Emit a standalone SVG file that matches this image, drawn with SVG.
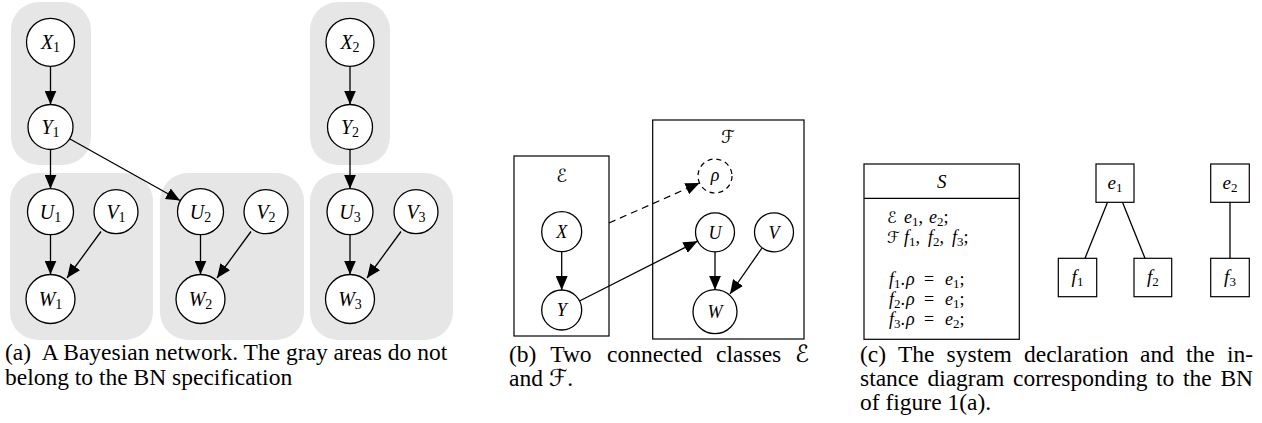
<svg xmlns="http://www.w3.org/2000/svg" width="1262" height="423" viewBox="0 0 1262 423">
<style>
.g{fill:#e6e6e6}
.n{fill:#fff;stroke:#000;stroke-width:1.3}
.nd{fill:#fff;stroke:#000;stroke-width:1.2;stroke-dasharray:5,4}
.bx{fill:#fff;stroke:#000;stroke-width:1.2}
.e{stroke:#000;stroke-width:1.3;fill:none}
.ed{stroke:#000;stroke-width:1.2;fill:none;stroke-dasharray:7,5}
.la{font-family:"Liberation Serif","DejaVu Serif",serif;font-style:italic;font-size:20px;text-anchor:middle}
.lb{font-family:"Liberation Serif","DejaVu Serif",serif;font-style:italic;font-size:18px;text-anchor:middle}
.lc{font-family:"Liberation Serif","DejaVu Serif",serif;font-style:italic;font-size:19px}
.ld{font-family:"Liberation Serif","DejaVu Serif",serif;font-style:italic;font-size:18px}
.mid{text-anchor:middle}
.sub{font-style:normal;font-size:14px}
.sc{font-style:normal;font-size:13px}
.up{font-style:normal}
.scr{font-family:"DejaVu Sans",serif;font-style:normal}
.scs{font-family:"DejaVu Sans",serif;font-style:normal;font-size:16px}
.cap{font-family:"Liberation Serif",serif;font-size:23.5px;fill:#000}
</style>
<defs>
<marker id="arr" markerUnits="userSpaceOnUse" markerWidth="14" markerHeight="12" refX="14" refY="6" orient="auto">
<path d="M0,0 L14,6 L0,12 z" fill="#000"/>
</marker>
</defs>
<rect width="1262" height="423" fill="#fff"/>

<!-- (a) gray areas -->
<g id="areas">
<rect class="g" x="11" y="2" width="80" height="163" rx="28"/>
<rect class="g" x="10" y="173" width="143" height="167" rx="28"/>
<rect class="g" x="160" y="173" width="144" height="167" rx="28"/>
<rect class="g" x="310" y="2" width="80" height="163" rx="28"/>
<rect class="g" x="310" y="173" width="143" height="167" rx="28"/>
</g>

<!-- (b) class boxes -->
<g id="classE">
<rect class="bx" x="514" y="156" width="95" height="180"/>
<text class="lb" x="561.7" y="182"><tspan class="scr">ℰ</tspan></text>
</g>
<g id="classF">
<rect class="bx" x="652.7" y="120" width="151.3" height="219"/>
<text class="lb" x="728" y="143"><tspan class="scr">ℱ</tspan></text>
</g>

<!-- connectors -->
<g id="connectors">
<line class="e" x1="50.5" y1="66.5" x2="50.5" y2="104.5" marker-end="url(#arr)"/>
<line class="e" x1="50.5" y1="149.5" x2="50.5" y2="188.7" marker-end="url(#arr)"/>
<line class="e" x1="50.5" y1="234.7" x2="50.5" y2="274.5" marker-end="url(#arr)"/>
<line class="e" x1="101" y1="231.5" x2="67" y2="278" marker-end="url(#arr)"/>
<line class="e" x1="70" y1="139" x2="180" y2="200.5" marker-end="url(#arr)"/>
<line class="e" x1="200.5" y1="234.7" x2="200.5" y2="274.5" marker-end="url(#arr)"/>
<line class="e" x1="251" y1="231.5" x2="217" y2="278" marker-end="url(#arr)"/>
<line class="e" x1="350" y1="66.5" x2="350" y2="104.5" marker-end="url(#arr)"/>
<line class="e" x1="350" y1="149.5" x2="350" y2="188.7" marker-end="url(#arr)"/>
<line class="e" x1="350" y1="234.7" x2="350" y2="274.5" marker-end="url(#arr)"/>
<line class="e" x1="401" y1="231.5" x2="367" y2="278" marker-end="url(#arr)"/>

<line class="e" x1="561.7" y1="251.7" x2="561.7" y2="290" marker-end="url(#arr)"/>
<line class="e" x1="579.5" y1="301" x2="697.5" y2="241.2" marker-end="url(#arr)"/>
<line class="e" x1="715" y1="251.8" x2="715" y2="289.7" marker-end="url(#arr)"/>
<line class="e" x1="762" y1="248" x2="730" y2="294" marker-end="url(#arr)"/>
<line class="ed" x1="609" y1="223" x2="699.5" y2="183" marker-end="url(#arr)"/>

<line class="e" x1="1107.5" y1="202.3" x2="1085" y2="258.3"/>
<line class="e" x1="1122.5" y1="202.3" x2="1145" y2="258.3"/>
<line class="e" x1="1230" y1="202.3" x2="1230" y2="258.3"/>
</g>

<!-- (a) nodes -->
<g id="X1"><circle class="n" cx="50.5" cy="42.3" r="24"/><text class="la" x="50.5" y="49">X<tspan class="sub" dy="3">1</tspan></text></g>
<g id="Y1"><circle class="n" cx="50.5" cy="127" r="22.5"/><text class="la" x="50.5" y="134">Y<tspan class="sub" dy="3">1</tspan></text></g>
<g id="U1"><circle class="n" cx="50.5" cy="211.7" r="23"/><text class="la" x="50.5" y="218.5">U<tspan class="sub" dy="3">1</tspan></text></g>
<g id="V1"><circle class="n" cx="116" cy="211.7" r="22"/><text class="la" x="116" y="218.5">V<tspan class="sub" dy="3">1</tspan></text></g>
<g id="W1"><circle class="n" cx="50.5" cy="299" r="24.5"/><text class="la" x="50.5" y="306">W<tspan class="sub" dy="3">1</tspan></text></g>
<g id="U2"><circle class="n" cx="200.5" cy="211.7" r="23"/><text class="la" x="200.5" y="218.5">U<tspan class="sub" dy="3">2</tspan></text></g>
<g id="V2"><circle class="n" cx="266" cy="211.7" r="22"/><text class="la" x="266" y="218.5">V<tspan class="sub" dy="3">2</tspan></text></g>
<g id="W2"><circle class="n" cx="200.5" cy="299" r="24.5"/><text class="la" x="200.5" y="306">W<tspan class="sub" dy="3">2</tspan></text></g>
<g id="X2"><circle class="n" cx="350" cy="42.3" r="24"/><text class="la" x="350" y="49">X<tspan class="sub" dy="3">2</tspan></text></g>
<g id="Y2"><circle class="n" cx="350" cy="127" r="22.5"/><text class="la" x="350" y="134">Y<tspan class="sub" dy="3">2</tspan></text></g>
<g id="U3"><circle class="n" cx="350" cy="211.7" r="23"/><text class="la" x="350" y="218.5">U<tspan class="sub" dy="3">3</tspan></text></g>
<g id="V3"><circle class="n" cx="416" cy="211.7" r="22"/><text class="la" x="416" y="218.5">V<tspan class="sub" dy="3">3</tspan></text></g>
<g id="W3"><circle class="n" cx="350" cy="299" r="24.5"/><text class="la" x="350" y="306">W<tspan class="sub" dy="3">3</tspan></text></g>

<!-- (b) nodes -->
<g id="X"><circle class="n" cx="561.7" cy="231.7" r="20"/><text class="lb" x="561.7" y="238">X</text></g>
<g id="Y"><circle class="n" cx="561.7" cy="310" r="20"/><text class="lb" x="561.7" y="316.3">Y</text></g>
<g id="rho"><circle class="nd" cx="715" cy="176" r="17"/><text class="lb" x="715" y="181">ρ</text></g>
<g id="U"><circle class="n" cx="715" cy="232.3" r="19.5"/><text class="lb" x="715" y="238.6">U</text></g>
<g id="V"><circle class="n" cx="774" cy="232.3" r="19.5"/><text class="lb" x="774" y="238.6">V</text></g>
<g id="W"><circle class="n" cx="715" cy="311.7" r="22"/><text class="lb" x="715" y="318">W</text></g>

<!-- (c) system declaration -->
<g id="S">
<rect class="bx" x="864" y="164" width="155.3" height="175.3"/>
<line class="e" x1="864" y1="198.3" x2="1019.3" y2="198.3" stroke-width="1.2"/>
<text class="lc mid" x="941.7" y="188">S</text>
<text class="scs" x="887" y="223">ℰ</text>
<text class="ld" y="223"><tspan x="904">e</tspan><tspan class="sc" dy="2.5">1</tspan><tspan class="up" dy="-2.5">,</tspan><tspan x="929">e</tspan><tspan class="sc" dy="2.5">2</tspan><tspan class="up" dy="-2.5">;</tspan></text>
<text class="scs" x="887" y="243">ℱ</text>
<text class="ld" y="243"><tspan x="904">f</tspan><tspan class="sc" dy="2.5">1</tspan><tspan class="up" dy="-2.5">,</tspan><tspan x="928">f</tspan><tspan class="sc" dy="2.5">2</tspan><tspan class="up" dy="-2.5">,</tspan><tspan x="952">f</tspan><tspan class="sc" dy="2.5">3</tspan><tspan class="up" dy="-2.5">;</tspan></text>
<text class="ld" y="285"><tspan x="889">f</tspan><tspan class="sc" dy="2.5">1</tspan><tspan class="up" dy="-2.5">.</tspan><tspan x="906">ρ</tspan><tspan class="up" x="924">=</tspan><tspan x="945">e</tspan><tspan class="sc" dy="2.5">1</tspan><tspan class="up" dy="-2.5">;</tspan></text>
<text class="ld" y="305"><tspan x="889">f</tspan><tspan class="sc" dy="2.5">2</tspan><tspan class="up" dy="-2.5">.</tspan><tspan x="906">ρ</tspan><tspan class="up" x="924">=</tspan><tspan x="945">e</tspan><tspan class="sc" dy="2.5">1</tspan><tspan class="up" dy="-2.5">;</tspan></text>
<text class="ld" y="325"><tspan x="889">f</tspan><tspan class="sc" dy="2.5">3</tspan><tspan class="up" dy="-2.5">.</tspan><tspan x="906">ρ</tspan><tspan class="up" x="924">=</tspan><tspan x="945">e</tspan><tspan class="sc" dy="2.5">2</tspan><tspan class="up" dy="-2.5">;</tspan></text>
</g>

<!-- (c) instance diagram -->
<g id="e1"><rect class="bx" x="1096" y="164" width="38" height="38.3"/><text class="lc mid" x="1115" y="189">e<tspan class="sc" dy="3">1</tspan></text></g>
<g id="e2"><rect class="bx" x="1210.7" y="164" width="38.6" height="38.3"/><text class="lc mid" x="1230" y="189">e<tspan class="sc" dy="3">2</tspan></text></g>
<g id="f1"><rect class="bx" x="1058.3" y="258.3" width="38.4" height="38.4"/><text class="lc mid" x="1077.5" y="283">f<tspan class="sc" dy="3">1</tspan></text></g>
<g id="f2"><rect class="bx" x="1134" y="258.3" width="37.7" height="38.4"/><text class="lc mid" x="1152.8" y="283">f<tspan class="sc" dy="3">2</tspan></text></g>
<g id="f3"><rect class="bx" x="1210.7" y="258.3" width="38.6" height="38.4"/><text class="lc mid" x="1230" y="283">f<tspan class="sc" dy="3">3</tspan></text></g>

<!-- captions -->
<g id="captions">
<text class="cap" y="360"><tspan x="5">(a)</tspan><tspan x="41.7">A Bayesian network. The gray areas do not</tspan></text>
<text class="cap" x="5" y="384.5">belong to the BN specification</text>

<text class="cap" y="361.5"><tspan x="509">(b)</tspan><tspan x="550.2">Two</tspan><tspan x="607">connected</tspan><tspan x="716">classes</tspan><tspan x="795" class="scr">ℰ</tspan></text>
<text class="cap" y="386"><tspan x="509">and </tspan><tspan class="scr">ℱ</tspan>.</text>

<text class="cap" y="361.5"><tspan x="860">(c)</tspan><tspan x="898">The</tspan><tspan x="946.6">system</tspan><tspan x="1024">declaration</tspan><tspan x="1140">and</tspan><tspan x="1186">the</tspan><tspan x="1227">in-</tspan></text>
<text class="cap" y="386"><tspan x="860">stance</tspan><tspan x="927.4">diagram</tspan><tspan x="1013.1">corresponding</tspan><tspan x="1156.1">to</tspan><tspan x="1183.1">the</tspan><tspan x="1220.4">BN</tspan></text>
<text class="cap" x="860" y="410">of figure 1(a).</text>
</g>
</svg>
